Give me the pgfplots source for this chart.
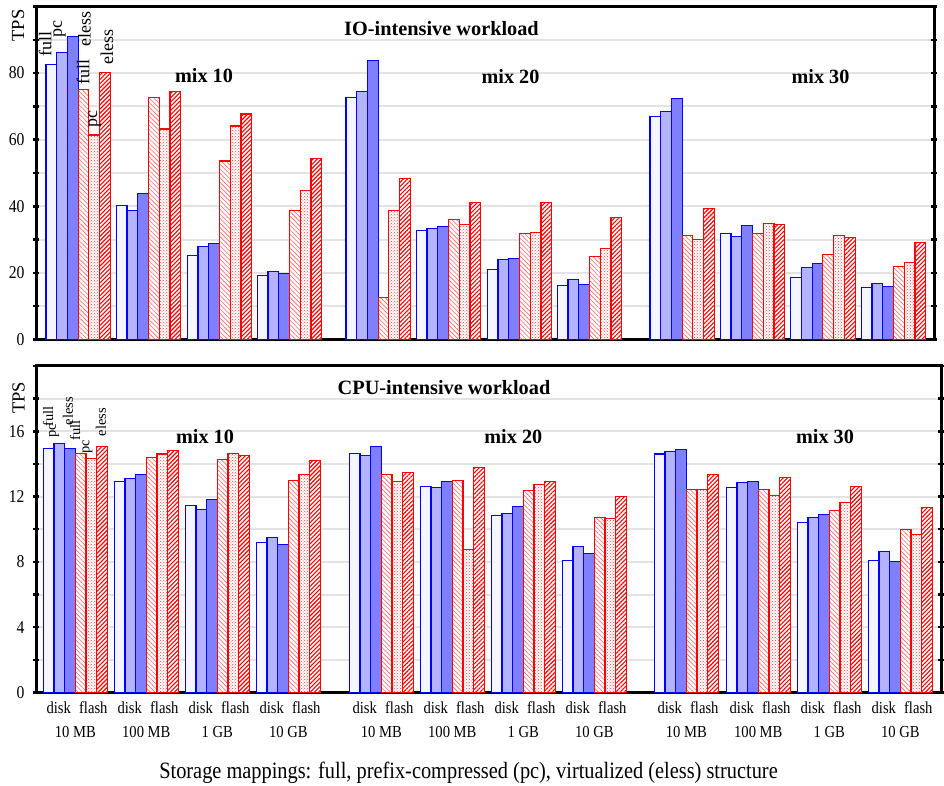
\documentclass[border=0pt]{standalone}
\usepackage{fontspec}
\setmainfont{Liberation Serif}
\newfontfamily\narrow[FakeStretch=0.87]{Liberation Serif}
\usepackage{pgfplots}
\pgfplotsset{compat=1.18}
\usepackage{pgfplotstable}
\usetikzlibrary{patterns,patterns.meta}

\definecolor{dfull}{HTML}{F5F5FF}
\definecolor{dpc}{HTML}{B3B3FF}
\definecolor{deless}{HTML}{8080FF}
\definecolor{gridgray}{HTML}{E3E3E3}

% IO-intensive workload; x = left edge of each storage group
\pgfplotstableread{
x      dfull dpc  deless ffull fpc  feless
46.0   82.6  86.2 91.0   75.1  61.4 80.2
116.3  40.2  38.7 43.8   72.7  63.2 74.6
187.3  25.3  28.0 28.9   53.6  64.1 67.7
257.3  19.3  20.5 19.9   38.7  44.7 54.3
346.0  72.7  74.5 83.8   12.7  38.7 48.3
416.3  32.7  33.3 33.9   36.0  34.5 41.1
487.3  20.9  24.1 24.4   31.9  32.1 41.1
557.3  16.3  17.9 16.6   24.8  27.4 36.6
650.0  67.0  68.4 72.4   31.2  30.0 39.3
720.3  31.8  30.9 34.2   31.8  34.8 34.5
790.7  18.7  21.7 22.9   25.6  31.2 30.6
861.3  15.7  16.9 16.0   22.0  23.2 29.2
}\iotable

% CPU-intensive workload
\pgfplotstableread{
x      dfull dpc   deless ffull fpc   feless
43.3   14.96 15.27 14.96  14.65 14.35 15.08
114.3  12.90 13.12 13.33  14.41 14.61 14.84
185.3  11.47 11.19 11.80  14.29 14.65 14.53
256.3   9.20  9.51  9.08  13.00 13.37 14.23
349.3  14.65 14.49 15.08  13.37 12.90 13.49
420.3  12.63 12.57 12.94  13.00  8.74 13.80
491.3  10.86 10.98 11.41  12.35 12.72 12.94
562.3   8.10  8.96  8.53  10.74 10.67 12.02
654.3  14.61 14.74 14.90  12.41 12.45 13.33
726.3  12.53 12.84 12.90  12.45 12.04 13.15
797.3  10.43 10.74 10.88  11.13 11.62 12.63
868.3   8.10  8.65  8.04   9.96  9.66 11.31
}\cputable

\pgfplotsset{
  layers/mylayers/.define layer set={axis background,axis grid,pre main,main,axis ticks,axis lines,axis tick labels,axis descriptions,axis foreground}{},
  common/.style={
    set layers=mylayers,
    scale only axis, clip=false,
    axis line style={line width=3pt},
    ymajorgrids, grid style={gridgray, line width=2pt},
    ytick style={black, line width=2.5pt},
    major tick length=6pt, tick align=center,
    xtick style={draw=none},
    /pgf/number format/assume math mode=true,
    yticklabel style={font=\narrow\fontsize{18}{20}\selectfont, xshift=-5pt},
  },
  dbar/.style={ybar, draw=blue, line width=1.1pt, fill=#1},
  ffull/.style={ybar, draw=red, line width=1.1pt, fill=white,
     postaction={pattern={Lines[angle=-45,distance=3.2pt,line width=0.6pt]}, pattern color=red!60}},
  fpc/.style={ybar, draw=red, line width=1.1pt, fill=white,
     postaction={pattern=crosshatch dots, pattern color=red!75}},
  feless/.style={ybar, draw=red, line width=1.1pt, fill=white,
     postaction={pattern={Lines[angle=45,distance=3pt,line width=1.1pt]}, pattern color=red}},
}

\newcommand{\rl}{\fontsize{18}{20}\selectfont}
\newcommand{\rls}{\fontsize{14.5}{16}\selectfont}
\newcommand{\mixfont}{\bfseries\fontsize{20.2}{23}\selectfont}
\newcommand{\titlefont}{\bfseries\fontsize{20.3}{23}\selectfont}
\newcommand{\tpsfont}{\fontsize{18.5}{20}\selectfont}

\begin{document}
\begin{tikzpicture}

% ---------------- IO-intensive ----------------
\begin{axis}[common,
  at={(36pt,446.5pt)}, anchor=south west,
  width=898pt, height=333pt,
  xmin=36, xmax=934, ymin=0, ymax=100,
  xtick=\empty,
  ytick={0,10,...,100},
  yticklabels={0,,20,,40,,60,,80,,},
  bar width=10.73pt,
]
\addplot[dbar=dfull, bar shift=5.37pt]  table[x=x,y=dfull]{\iotable};
\addplot[dbar=dpc,   bar shift=16.1pt]  table[x=x,y=dpc]{\iotable};
\addplot[dbar=deless,bar shift=26.83pt] table[x=x,y=deless]{\iotable};
\addplot[ffull, bar shift=37.56pt] table[x=x,y=ffull]{\iotable};
\addplot[fpc,   bar shift=48.29pt] table[x=x,y=fpc]{\iotable};
\addplot[feless,bar shift=59.02pt] table[x=x,y=feless]{\iotable};

\node[font=\titlefont] at (axis cs:441.5,93.4) {IO-intensive workload};
\node[font=\mixfont] at (axis cs:204,79.3) {mix 10};
\node[font=\mixfont] at (axis cs:510.5,78.8) {mix 20};
\node[font=\mixfont] at (axis cs:820.5,78.8) {mix 30};
\node[font=\tpsfont, rotate=90] at (axis cs:18,94.3) {TPS};

\node[font=\rl, rotate=90, inner sep=0pt] at (axis cs:45,88.6) {full};
\node[font=\rl, rotate=90, inner sep=0pt] at (axis cs:59.5,93.1) {pc};
\node[font=\rl, rotate=90, inner sep=0pt] at (axis cs:84.5,93.3) {eless};
\node[font=\rl, rotate=90, inner sep=0pt] at (axis cs:83,80.4) {full};
\node[font=\rl, rotate=90, inner sep=0pt] at (axis cs:94.7,66.1) {pc};
\node[font=\rl, rotate=90, inner sep=0pt] at (axis cs:107,87.8) {eless};
\end{axis}

% ---------------- CPU-intensive ----------------
\begin{axis}[common,
  at={(36pt,93.5pt)}, anchor=south west,
  width=905pt, height=326.5pt,
  xmin=36, xmax=941, ymin=0, ymax=20,
  ytick={0,2,...,20},
  yticklabels={0,,4,,8,,12,,16,,},
  bar width=10.67pt,
  xtick={58.8,93.3,129.8,164.3,200.8,235.3,271.8,306.3,
         364.8,399.3,435.8,470.3,506.8,541.3,577.8,612.3,
         669.8,704.3,741.8,776.3,812.8,847.3,883.8,918.3},
  xticklabels={disk,flash,disk,flash,disk,flash,disk,flash,
               disk,flash,disk,flash,disk,flash,disk,flash,
               disk,flash,disk,flash,disk,flash,disk,flash},
  xticklabel style={font=\narrow\fontsize{16.8}{18}\selectfont, yshift=-3pt},
  extra x ticks={75.3,146.3,217.3,288.3,381.3,452.3,523.3,594.3,686.3,758.3,829.3,900.3},
  extra x tick labels={10 MB,100 MB,1 GB,10 GB,10 MB,100 MB,1 GB,10 GB,10 MB,100 MB,1 GB,10 GB},
  extra x tick style={tick style={draw=none}, xticklabel style={yshift=-24.5pt}},
]
\addplot[dbar=dfull, bar shift=5.33pt]  table[x=x,y=dfull]{\cputable};
\addplot[dbar=dpc,   bar shift=16.0pt]  table[x=x,y=dpc]{\cputable};
\addplot[dbar=deless,bar shift=26.67pt] table[x=x,y=deless]{\cputable};
\addplot[ffull, bar shift=37.33pt] table[x=x,y=ffull]{\cputable};
\addplot[fpc,   bar shift=48.0pt]  table[x=x,y=fpc]{\cputable};
\addplot[feless,bar shift=58.67pt] table[x=x,y=feless]{\cputable};

\node[font=\titlefont] at (axis cs:444,18.7) {CPU-intensive workload};
\node[font=\mixfont] at (axis cs:205,15.66) {mix 10};
\node[font=\mixfont] at (axis cs:513.3,15.66) {mix 20};
\node[font=\mixfont] at (axis cs:825,15.66) {mix 30};
\node[font=\tpsfont, rotate=90] at (axis cs:18.5,18.06) {TPS};

\node[font=\rls, rotate=90, inner sep=0pt] at (axis cs:48,16.93) {full};
\node[font=\rls, rotate=90, inner sep=0pt] at (axis cs:54,16.01) {pc};
\node[font=\rls, rotate=90, inner sep=0pt] at (axis cs:68,17.24) {eless};
\node[font=\rls, rotate=90, inner sep=0pt] at (axis cs:75,16.07) {full};
\node[font=\rls, rotate=90, inner sep=0pt] at (axis cs:87.5,15.03) {pc};
\node[font=\rls, rotate=90, inner sep=0pt] at (axis cs:101,16.56) {eless};

\node[font=\narrow\fontsize{23.4}{25}\selectfont] at (axis cs:468.5,-4.93) {Storage mappings: full, prefix-compressed (pc), virtualized (eless) structure};
\end{axis}

\pgfresetboundingbox
\useasboundingbox (0,0) rectangle (944pt,786pt);
\end{tikzpicture}
\end{document}
